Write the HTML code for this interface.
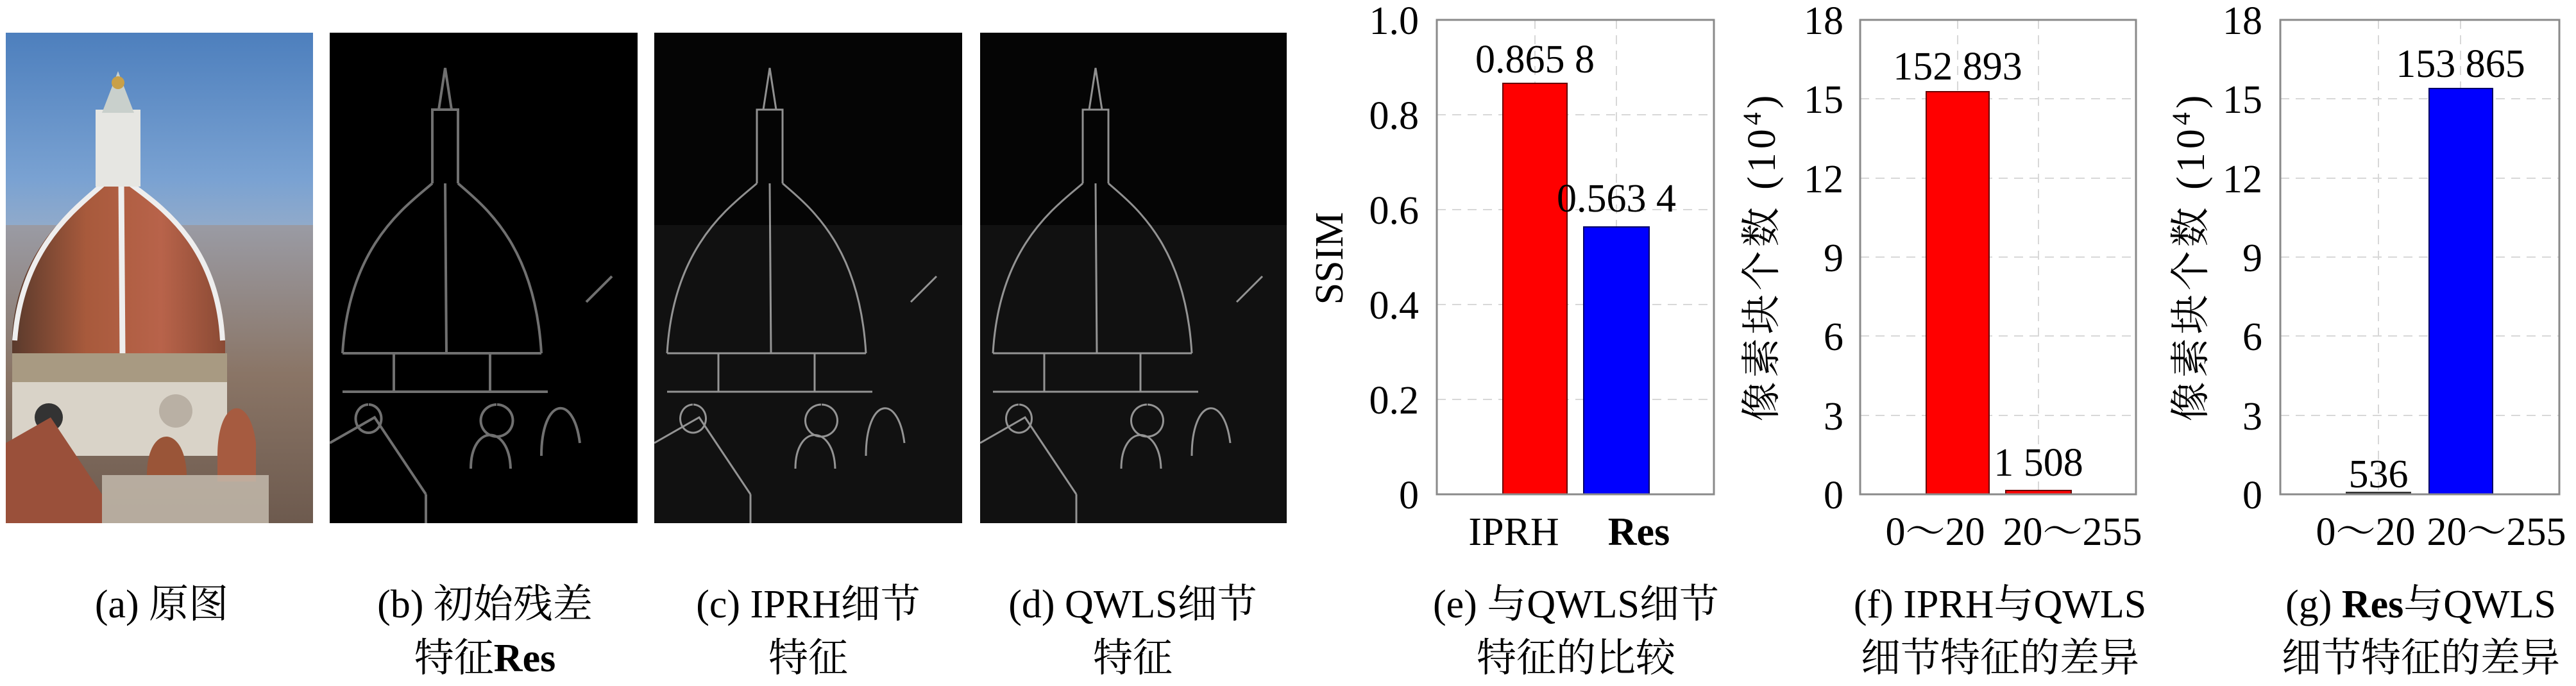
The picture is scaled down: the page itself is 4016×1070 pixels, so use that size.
<!DOCTYPE html>
<html><head><meta charset="utf-8"><style>
html,body{margin:0;padding:0;background:#fff;}
svg{display:block;}
text{font-family:"Liberation Serif","Noto Serif CJK SC",serif;}
.t{font-size:62px;fill:#000;}
.c{font-size:62px;fill:#000;text-anchor:middle;}
.g{stroke:#d8d8d8;stroke-width:2;stroke-dasharray:14,10;}
.ax{fill:none;stroke:#8a8a8a;stroke-width:3;}
</style></head><body>
<svg width="4016" height="1070" viewBox="0 0 4016 1070" xmlns="http://www.w3.org/2000/svg" font-family="Liberation Serif, Noto Serif CJK SC, serif">
<defs>
<linearGradient id="sky" x1="0" y1="0" x2="0" y2="1">
<stop offset="0" stop-color="#4d7fbd"/><stop offset="0.3" stop-color="#7aa2d2"/><stop offset="0.5" stop-color="#a9b3c2"/><stop offset="0.7" stop-color="#8e8a86"/><stop offset="1" stop-color="#6a5e54"/>
</linearGradient>
<linearGradient id="city" x1="0" y1="0" x2="0" y2="1">
<stop offset="0" stop-color="#9a9ba4"/><stop offset="0.5" stop-color="#8a7566"/><stop offset="1" stop-color="#6d5a4e"/>
</linearGradient>
<linearGradient id="dome" x1="0" y1="0" x2="1" y2="0">
<stop offset="0" stop-color="#5a3a2c"/><stop offset="0.35" stop-color="#a85a3c"/><stop offset="0.7" stop-color="#b8634a"/><stop offset="1" stop-color="#8a4a34"/>
</linearGradient>
</defs>
<!-- (a) original -->
<g transform="translate(9,51)">
<rect width="479" height="765" fill="url(#sky)"/>
<rect x="0" y="300" width="479" height="465" fill="url(#city)"/>
<path d="M10,470 C20,330 110,270 150,235 L196,235 C240,270 335,330 342,480 L342,500 L10,500 Z" fill="url(#dome)"/>
<path d="M14,480 C25,330 115,270 153,235" fill="none" stroke="#eee" stroke-width="8"/>
<path d="M338,480 C330,330 240,270 193,235" fill="none" stroke="#eee" stroke-width="8"/>
<line x1="180" y1="235" x2="182" y2="500" stroke="#eee" stroke-width="9"/>
<rect x="140" y="120" width="70" height="120" fill="#e6e6e2"/>
<polygon points="150,125 175,60 200,125" fill="#c9d0cc"/>
<circle cx="175" cy="78" r="10" fill="#c9a048"/>
<rect x="10" y="500" width="335" height="160" fill="#d9d3c8"/>
<rect x="10" y="500" width="335" height="45" fill="#a89a82"/>
<circle cx="67" cy="600" r="22" fill="#333"/><circle cx="265" cy="590" r="26" fill="#b9b0a4"/>
<polygon points="0,765 0,640 70,600 150,720 150,765" fill="#9a503a"/>
<path d="M220,690 C220,610 280,610 282,690 Z" fill="#9a5538"/>
<path d="M330,660 C330,570 380,560 390,640 L390,700 L330,700Z" fill="#a65b40"/>
<rect x="150" y="690" width="260" height="75" fill="#c8bfb2" opacity="0.8"/>
</g>
<!-- (b)(c)(d) detail images -->
<g transform="translate(514,51)">
<rect width="480" height="765" fill="#000"/>
<g fill="none" stroke="#bbb" stroke-width="4" opacity="0.6">
<path d="M20,500 C30,330 120,270 160,235 M330,500 C320,330 240,270 200,235 M180,235 L182,500 M160,235 L160,120 L200,120 L200,235 M170,120 L180,55 L190,120 M20,500 L330,500 M20,560 L340,560 M60,580 a20,22 0 1,0 1,0 M260,580 a25,25 0 1,0 1,0 M0,640 L70,600 L150,720 M220,680 C220,610 280,610 282,680 M330,660 C330,570 380,560 390,640 M150,720 L150,765 M100,500 L100,560 M250,500 L250,560 M400,420 L440,380"/>
</g>
</g>
<g transform="translate(1020,51)">
<rect width="480" height="765" fill="#050505"/>
<rect y="300" width="480" height="465" fill="#111"/>
<g fill="none" stroke="#ccc" stroke-width="3" opacity="0.7">
<path d="M20,500 C30,330 120,270 160,235 M330,500 C320,330 240,270 200,235 M180,235 L182,500 M160,235 L160,120 L200,120 L200,235 M170,120 L180,55 L190,120 M20,500 L330,500 M20,560 L340,560 M60,580 a20,22 0 1,0 1,0 M260,580 a25,25 0 1,0 1,0 M0,640 L70,600 L150,720 M220,680 C220,610 280,610 282,680 M330,660 C330,570 380,560 390,640 M150,720 L150,765 M100,500 L100,560 M250,500 L250,560 M400,420 L440,380"/>
</g>
</g>
<g transform="translate(1528,51)">
<rect width="478" height="765" fill="#050505"/>
<rect y="300" width="478" height="465" fill="#111"/>
<g fill="none" stroke="#ccc" stroke-width="3" opacity="0.7">
<path d="M20,500 C30,330 120,270 160,235 M330,500 C320,330 240,270 200,235 M180,235 L182,500 M160,235 L160,120 L200,120 L200,235 M170,120 L180,55 L190,120 M20,500 L330,500 M20,560 L340,560 M60,580 a20,22 0 1,0 1,0 M260,580 a25,25 0 1,0 1,0 M0,640 L70,600 L150,720 M220,680 C220,610 280,610 282,680 M330,660 C330,570 380,560 390,640 M150,720 L150,765 M100,500 L100,560 M250,500 L250,560 M400,420 L440,380"/>
</g>
</g>

<!-- (e) chart -->
<g>
<line class="g" x1="2240" y1="179" x2="2672" y2="179"/><line class="g" x1="2240" y1="327" x2="2672" y2="327"/>
<line class="g" x1="2240" y1="475" x2="2672" y2="475"/><line class="g" x1="2240" y1="623" x2="2672" y2="623"/>
<line class="g" x1="2393" y1="31" x2="2393" y2="771"/><line class="g" x1="2520" y1="31" x2="2520" y2="771"/>
<rect x="2343" y="130" width="100" height="641" fill="#ff0000" stroke="#600" stroke-width="2"/>
<rect x="2469" y="354" width="102" height="417" fill="#0000ff" stroke="#006" stroke-width="2"/>
<rect class="ax" x="2240" y="31" width="432" height="740"/>
<g class="t" text-anchor="end">
<text x="2212" y="53">1.0</text><text x="2212" y="201">0.8</text><text x="2212" y="349">0.6</text>
<text x="2212" y="497">0.4</text><text x="2212" y="645">0.2</text><text x="2212" y="793">0</text>
</g>
<text class="c" x="2393" y="113">0.865 8</text>
<text class="c" x="2520" y="330">0.563 4</text>
<text class="c" transform="translate(2093,403) rotate(-90)">SSIM</text>
<text class="c" x="2360" y="850">IPRH</text>
<text class="c" x="2555" y="850" font-weight="bold">Res</text>
</g>

<!-- (f) chart -->
<g>
<line class="g" x1="2900" y1="154" x2="3330" y2="154"/><line class="g" x1="2900" y1="278" x2="3330" y2="278"/>
<line class="g" x1="2900" y1="401" x2="3330" y2="401"/><line class="g" x1="2900" y1="524" x2="3330" y2="524"/>
<line class="g" x1="2900" y1="648" x2="3330" y2="648"/>
<line class="g" x1="3052" y1="31" x2="3052" y2="771"/><line class="g" x1="3178" y1="31" x2="3178" y2="771"/>
<rect x="3003" y="143" width="98" height="628" fill="#ff0000" stroke="#600" stroke-width="2"/>
<rect x="3127" y="765" width="102" height="6" fill="#ff0000" stroke="#600" stroke-width="2"/>
<rect class="ax" x="2900" y="31" width="430" height="740"/>
<g class="t" text-anchor="end">
<text x="2874" y="53">18</text><text x="2874" y="176">15</text><text x="2874" y="300">12</text>
<text x="2874" y="423">9</text><text x="2874" y="546">6</text><text x="2874" y="670">3</text><text x="2874" y="793">0</text>
</g>
<text class="c" x="3052" y="124">152 893</text>
<text class="c" x="3178" y="742">1 508</text>
<text class="c" transform="translate(2767,400) rotate(-90)" letter-spacing="6">像素块个数 (10<tspan dy="-22" font-size="40">4</tspan><tspan dy="22">)</tspan></text>
<text class="c" x="3017" y="850">0～20</text>
<text class="c" x="3231" y="850">20～255</text>
</g>

<!-- (g) chart -->
<g>
<line class="g" x1="3555" y1="154" x2="3990" y2="154"/><line class="g" x1="3555" y1="278" x2="3990" y2="278"/>
<line class="g" x1="3555" y1="401" x2="3990" y2="401"/><line class="g" x1="3555" y1="524" x2="3990" y2="524"/>
<line class="g" x1="3555" y1="648" x2="3990" y2="648"/>
<line class="g" x1="3708" y1="31" x2="3708" y2="771"/><line class="g" x1="3836" y1="31" x2="3836" y2="771"/>
<rect x="3658" y="768" width="100" height="3" fill="#333" stroke="#333" stroke-width="2"/>
<rect x="3787" y="138" width="99" height="633" fill="#0000ff" stroke="#006" stroke-width="2"/>
<rect class="ax" x="3555" y="31" width="435" height="740"/>
<g class="t" text-anchor="end">
<text x="3527" y="53">18</text><text x="3527" y="176">15</text><text x="3527" y="300">12</text>
<text x="3527" y="423">9</text><text x="3527" y="546">6</text><text x="3527" y="670">3</text><text x="3527" y="793">0</text>
</g>
<text class="c" x="3708" y="760">536</text>
<text class="c" x="3836" y="120">153 865</text>
<text class="c" transform="translate(3436,400) rotate(-90)" letter-spacing="6">像素块个数 (10<tspan dy="-22" font-size="40">4</tspan><tspan dy="22">)</tspan></text>
<text class="c" x="3688" y="850">0～20</text>
<text class="c" x="3892" y="850">20～255</text>
</g>

<!-- captions -->
<g class="c">
<text x="252" y="963">(a) 原图</text>
<text x="756" y="963">(b) 初始残差</text>
<text x="756" y="1047">特征<tspan font-weight="bold">Res</tspan></text>
<text x="1260" y="963">(c) IPRH细节</text>
<text x="1260" y="1047">特征</text>
<text x="1766" y="963">(d) QWLS细节</text>
<text x="1766" y="1047">特征</text>
<text x="2457" y="963">(e) 与QWLS细节</text>
<text x="2457" y="1047">特征的比较</text>
<text x="3118" y="963">(f) IPRH与QWLS</text>
<text x="3118" y="1047">细节特征的差异</text>
<text x="3774" y="963">(g) <tspan font-weight="bold">Res</tspan>与QWLS</text>
<text x="3774" y="1047">细节特征的差异</text>
</g>
</svg>
</body></html>
